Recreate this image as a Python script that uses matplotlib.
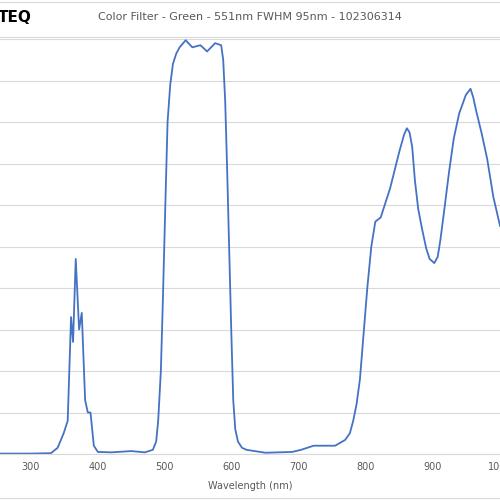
import matplotlib
matplotlib.use("Agg")
import matplotlib.pyplot as plt
import numpy as np

wavelength = [254, 300, 330, 340, 349, 355, 360, 363, 367, 372, 376, 381, 385, 389, 394, 400,
              420, 450, 470, 482, 487, 490, 494, 497, 501, 504, 508, 512, 517, 522, 531, 541,
              553, 563, 575, 584, 587, 590, 593, 596, 599, 602, 605, 609, 615, 622, 650,
              690, 703, 722, 754, 769, 776, 781, 786, 791, 796, 802, 808, 814, 822, 836,
              850, 857, 861, 865, 869, 873, 878, 884, 890, 895, 902, 907, 911, 917, 924,
              931, 939, 949, 956, 960, 964, 973, 981, 990, 1000]
transmission = [0.1, 0.1, 0.2, 1.5, 5, 8, 33, 27, 47, 30, 34, 13, 10, 10, 2, 0.5,
                0.4, 0.7, 0.4, 1, 3, 8, 20, 37, 62, 80, 89, 94, 96.5, 98, 99.7, 98,
                98.5, 97, 99, 98.5, 95, 85, 68, 49, 30, 13, 6, 3, 1.5, 1, 0.3,
                0.5, 1, 2, 2, 3.4, 5, 8, 12, 18, 28, 40, 50, 56, 57, 64,
                73, 77, 78.5, 77.5, 74, 66, 59, 54, 49.5, 47, 46, 47.5, 51.5, 59, 68,
                76, 82, 86.5, 88, 86, 83, 77, 71, 62, 55]

fig = plt.figure(figsize=(5, 5), dpi=100)
ax = fig.add_axes([0, 0.092, 1.0, 0.83])
ax.plot(wavelength, transmission, color="#4472C4", linewidth=1.3)
ax.set_xlim(254, 993)
ax.set_ylim(0, 100)
ax.set_yticks(np.arange(0, 101, 10))
ax.set_xticks(range(300, 1001, 100))
ax.tick_params(axis="x", length=0, labelsize=7, colors="#595959", pad=6)
ax.tick_params(axis="y", length=0, labelleft=False)
ax.grid(axis="y", color="#D9D9D9", linewidth=0.8)
for s in ["left", "right", "top"]:
    ax.spines[s].set_visible(False)
ax.spines["bottom"].set_color("#D9D9D9")
ax.set_xlabel("Wavelength (nm)", fontsize=7, color="#595959", labelpad=6)

fig.text(0.5, 0.965, "Color Filter - Green - 551nm FWHM 95nm - 102306314",
         ha="center", va="center", fontsize=8, color="#595959")
fig.text(-0.005, 0.965, "TEQ", ha="left", va="center", fontsize=11,
         fontweight="bold", color="black")
fig.add_artist(plt.Line2D([0, 1], [0.996, 0.996], color="#D9D9D9", linewidth=0.8))
fig.add_artist(plt.Line2D([0, 1], [0.926, 0.926], color="#D9D9D9", linewidth=0.8))
fig.add_artist(plt.Line2D([0, 1], [0.004, 0.004], color="#D9D9D9", linewidth=0.8))

fig.savefig("out.png", dpi=100)
